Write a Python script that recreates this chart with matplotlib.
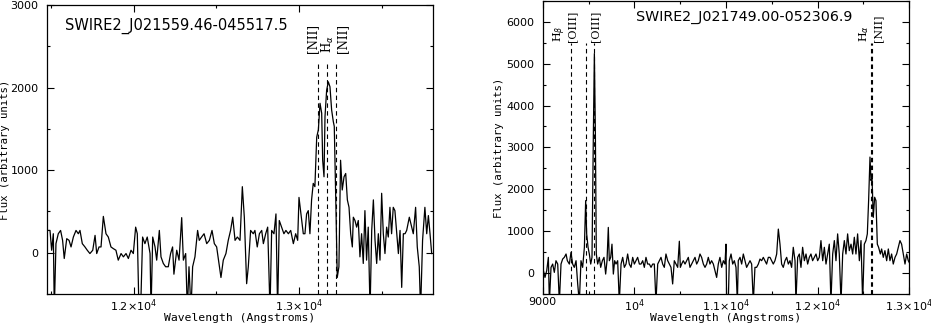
import numpy as np
import matplotlib
matplotlib.use("Agg")
import matplotlib.pyplot as plt
from matplotlib.ticker import MultipleLocator

# ---- left spectrum: SWIRE2_J021559.46-045517.5
name1 = "SWIRE2_J021559.46-045517.5"
wave1 = [11477, 11495, 11505, 11515, 11521, 11531, 11545, 11559, 11571, 11581,
         11596, 11610, 11622, 11636, 11652, 11666, 11676, 11690, 11706, 11720,
         11736, 11753, 11767, 11777, 11791, 11803, 11817, 11833, 11847, 11863,
         11877, 11893, 11907, 11924, 11938, 11954, 11968, 11984, 11998, 12012,
         12022, 12032, 12042, 12054, 12068, 12082, 12099, 12105, 12115, 12129,
         12139, 12155, 12165, 12179, 12193, 12209, 12223, 12235, 12243, 12260,
         12274, 12290, 12300, 12314, 12324, 12334, 12346, 12356, 12370, 12386,
         12396, 12410, 12425, 12441, 12457, 12473, 12487, 12501, 12515, 12527,
         12541, 12557, 12571, 12585, 12598, 12612, 12626, 12642, 12656, 12668,
         12682, 12692, 12706, 12722, 12732, 12746, 12759, 12773, 12783, 12797,
         12809, 12823, 12833, 12847, 12859, 12869, 12879, 12893, 12907, 12919,
         12934, 12948, 12964, 12978, 12990, 12998, 13010, 13024, 13034, 13044,
         13054, 13064, 13074, 13084, 13094, 13105, 13115, 13125, 13135, 13141,
         13149, 13155, 13165, 13175, 13185, 13195, 13205, 13211, 13221, 13229,
         13239, 13249, 13259, 13270, 13280, 13290, 13300, 13310, 13320, 13326,
         13336, 13346, 13356, 13366, 13376, 13386, 13396, 13406, 13416, 13427,
         13437, 13447, 13457, 13467, 13477, 13487, 13497, 13507, 13517, 13527,
         13537, 13547, 13557, 13567, 13577, 13588, 13598, 13608, 13618, 13628,
         13638, 13648, 13664, 13678, 13688, 13702, 13712, 13724, 13732, 13744,
         13758, 13769, 13779, 13789, 13799]
flux1 = [270, 270, 30, 230, -700, 110, 230, 270, 150, -70,
         170, 150, 70, 190, 270, 230, 270, 110, 70, 30,
         -10, 30, 210, -10, 70, 70, 440, 230, 190, 70,
         50, 30, -90, -10, -50, -10, -70, 30, -10, 310,
         230, -700, -700, 190, 110, 190, -10, -700, 190, 70,
         -90, 270, -50, -130, -170, -170, -10, 70, -260, 30,
         -90, 425, -90, -10, -700, -170, -700, -170, -50, 270,
         150, 190, 230, 110, 150, 270, 110, 70, -130, -300,
         -90, -10, 150, 270, 430, 150, 190, 150, 800, 430,
         -375, -170, 270, 230, 270, 70, 230, 270, 110, 230,
         310, -700, 270, 230, 470, -700, 390, 310, 230, 270,
         230, 270, 110, 230, 150, 670, 470, 230, 230, 470,
         510, 230, 640, 840, 800, 1400, 1490, 1810, 1690, 1120,
         920, 1650, 1970, 2070, 2010, 1730, 1590, 1530, 550, -300,
         -170, 1120, 760, 920, 960, 640, 550, 230, 70, 430,
         390, 310, 390, -50, 230, -130, 510, -90, 310, -700,
         270, 640, 150, -130, 230, -90, 720, 230, -10, 310,
         190, 550, 230, 550, 510, 230, -10, 270, -420, 230,
         230, 270, 430, 310, 230, 550, 70, -170, -700, 150,
         550, 230, 450, 230, -10]
lines1 = [13115, 13169, 13221]
labels1 = ["[NII]", r"H$_\alpha$", "[NII]"]

# ---- right spectrum: SWIRE2_J021749.00-052306.9
name2 = "SWIRE2_J021749.00-052306.9"
wave2 = [9000, 9025, 9044, 9062, 9073, 9091, 9109, 9127, 9145, 9164,
         9182, 9200, 9218, 9236, 9255, 9269, 9291, 9309, 9327, 9345,
         9364, 9382, 9400, 9418, 9436, 9455, 9469, 9480, 9495, 9509,
         9524, 9538, 9553, 9564, 9575, 9585, 9600, 9618, 9633, 9651,
         9669, 9687, 9702, 9716, 9727, 9742, 9756, 9771, 9785, 9800,
         9818, 9836, 9855, 9873, 9891, 9909, 9927, 9945, 9964, 9982,
         10000, 10018, 10036, 10055, 10073, 10091, 10109, 10127, 10145, 10164,
         10182, 10200, 10218, 10236, 10255, 10273, 10291, 10309, 10327, 10345,
         10364, 10382, 10400, 10418, 10436, 10455, 10473, 10491, 10502, 10516,
         10534, 10553, 10571, 10589, 10607, 10625, 10643, 10662, 10680, 10698,
         10716, 10734, 10753, 10771, 10789, 10807, 10825, 10843, 10862, 10880,
         10898, 10916, 10934, 10953, 10971, 10989, 11000, 11007, 11025, 11036,
         11055, 11073, 11091, 11109, 11124, 11134, 11153, 11171, 11189, 11207,
         11225, 11243, 11262, 11280, 11298, 11316, 11334, 11353, 11371, 11389,
         11407, 11425, 11443, 11462, 11480, 11498, 11516, 11534, 11553, 11571,
         11589, 11607, 11625, 11644, 11662, 11680, 11698, 11716, 11734, 11753,
         11763, 11782, 11800, 11818, 11836, 11855, 11873, 11891, 11909, 11927,
         11945, 11964, 11982, 12000, 12018, 12036, 12055, 12073, 12091, 12109,
         12127, 12145, 12164, 12182, 12200, 12218, 12236, 12255, 12273, 12291,
         12309, 12327, 12345, 12364, 12382, 12400, 12418, 12436, 12455, 12473,
         12491, 12509, 12527, 12542, 12556, 12571, 12582, 12593, 12607, 12622,
         12636, 12651, 12665, 12684, 12698, 12716, 12734, 12753, 12771, 12789,
         12807, 12825, 12844, 12862, 12880, 12898, 12916, 12934, 12953, 12971,
         12989, 13000]
flux2 = [136, -104, 56, 375, -700, 136, 215, 16, 295, 215,
         -700, 215, 335, 375, 455, 295, 215, 495, 215, 136,
         295, -260, -700, 295, 136, 615, 1730, 935, 615, 455,
         215, 375, 3330, 5240, 3330, 455, 215, 375, 136, 295,
         375, -24, 295, 1090, 295, 375, 690, -24, 295, 215,
         295, -700, 215, 375, 136, 215, 455, 215, 136, 375,
         215, 295, 375, 215, 215, 295, 136, 375, 215, 215,
         136, 215, 215, -700, 215, 295, 375, 215, 136, 455,
         295, 215, 136, -260, 295, 215, 136, 760, 136, 215,
         295, 215, 295, 375, 136, 215, 295, 375, 215, 295,
         455, 375, 215, 136, 215, 375, 215, 295, 215, 56,
         -104, 215, 375, 136, 295, 215, 690, -700, -700, 295,
         455, 215, 295, 136, -700, 295, 375, 215, 455, 295,
         136, 215, 295, 215, -700, 136, 136, 215, 335, 295,
         375, 295, 215, 375, 375, 295, 215, 295, 455, 1050,
         690, 215, 136, 295, 375, 215, 295, 136, 615, 295,
         -700, 375, 455, 136, 615, 295, 455, 215, 375, 455,
         295, 375, 455, 295, 375, 775, 295, 615, 215, 455,
         690, -700, 455, 775, 295, 935, 455, -700, 455, 775,
         455, 935, 535, 690, 455, 855, 455, 935, 295, 775,
         -700, 690, 775, 935, 1730, 2770, 2210, 2280, 1330, 1810,
         1730, 690, 615, 455, 575, 375, 535, 295, 575, 295,
         455, 215, 375, 455, 615, 775, 690, 455, 215, 455,
         295, 250]
lines2 = [9305, 9469, 9565, 12583, 12598]
labels2 = [r"H$_\beta$", "[OIII]", "[OIII]", r"H$_\alpha$", "[NII]"]

xticks1 = [12000, 13000]
xlabels1 = [r"$1.2{\times}10^4$", r"$1.3{\times}10^4$"]
xticks2 = [9000, 10000, 11000, 12000, 13000]
xlabels2 = ["9000", r"$10^4$", r"$1.1{\times}10^4$", r"$1.2{\times}10^4$", r"$1.3{\times}10^4$"]

plt.rcParams['mathtext.fontset'] = 'dejavusans'

fig = plt.figure(figsize=(9.31, 3.25), dpi=100)
ax1 = fig.add_axes([0.0505, 0.0954, 0.4146, 0.889])
ax2 = fig.add_axes([0.5829, 0.0954, 0.3938, 0.902])


def style(ax, ystep):
    ax.yaxis.set_major_locator(MultipleLocator(ystep))
    ax.yaxis.set_minor_locator(MultipleLocator(ystep / 2))
    ax.xaxis.set_minor_locator(MultipleLocator(500))
    ax.tick_params(which='both', direction='in', top=True, right=True,
                   labelsize=8, width=0.8)
    ax.tick_params(which='major', length=5)
    ax.tick_params(which='minor', length=2.5)
    ax.tick_params(axis='y', pad=6)
    ax.tick_params(axis='x', pad=2.5)
    for s in ax.spines.values():
        s.set_linewidth(0.9)
    ax.set_xlabel("Wavelength (Angstroms)", family='DejaVu Sans Mono', fontsize=8.2)
    ax.set_ylabel("Flux (arbitrary units)", family='DejaVu Sans Mono', fontsize=7.7)


# left panel
ax1.plot(wave1, flux1, color='black', lw=0.9)
ax1.set_xlim(11477, 13807)
ax1.set_ylim(-500, 3000)
style(ax1, 1000)
ax1.set_xticks(xticks1)
ax1.set_xticklabels(xlabels1)
ax1.set_yticks([0, 1000, 2000, 3000])
ax1.vlines(lines1, -500, 2300, colors='black', linestyles=(0, (4, 3)), lw=0.8)
for x, lab, dx in zip(lines1, labels1, [-6, 1, 7]):
    ax1.annotate(lab, (x, 2420), xytext=(dx, 0), textcoords='offset pixels',
                 rotation=90, ha='center', va='bottom', fontsize=8.5, family='DejaVu Serif')
ax1.text(0.047, 0.927, name1, transform=ax1.transAxes, fontsize=10.5, va='center')
ax1.xaxis.set_label_coords(0.5, -0.066)
ax1.yaxis.set_label_coords(-0.095, 0.5)

# right panel
ax2.plot(wave2, flux2, color='black', lw=0.9)
ax2.set_xlim(9000, 13000)
ax2.set_ylim(-500, 6500)
style(ax2, 1000)
ax2.set_xticks(xticks2)
ax2.set_xticklabels(xlabels2)
ax2.set_yticks([0, 1000, 2000, 3000, 4000, 5000, 6000])
ax2.vlines(lines2, -500, 5500, colors='black', linestyles=(0, (4, 3)), lw=0.8)
for x, lab, dx in zip(lines2, labels2, [-11, -13, 1, -7, 6]):
    ax2.annotate(lab, (x, 5520), xytext=(dx, 0), textcoords='offset pixels',
                 rotation=90, ha='center', va='bottom', fontsize=8, family='DejaVu Serif')
ax2.text(0.2545, 0.944, name2, transform=ax2.transAxes, fontsize=10.3, va='center')
ax2.xaxis.set_label_coords(0.5, -0.064)
ax2.yaxis.set_label_coords(-0.106, 0.5)

fig.savefig("out.png", dpi=100)
